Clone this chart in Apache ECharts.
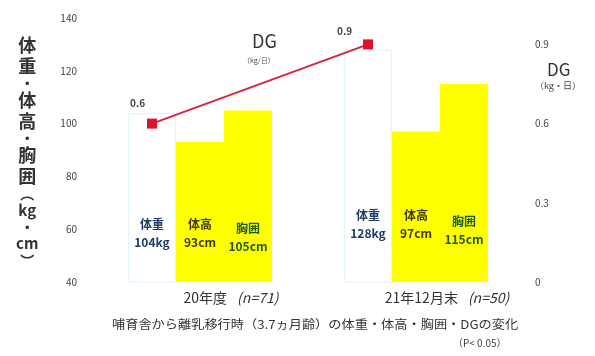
<!DOCTYPE html>
<html>
<head>
<meta charset="utf-8">
<script src="https://cdn.jsdelivr.net/npm/echarts@6/dist/echarts.min.js"></script>
<style>
  html, body { margin: 0; padding: 0; background: #fff; }
  #main { width: 595px; height: 356px; }
</style>
</head>
<body>
<div id="main"></div>
<script>
// 期間（カテゴリ）と頭数
var categories = ['20年度', '21年12月末'];
var headCounts = ['(n=71)', '(n=50)'];

// 体重(kg)・体高(cm)・胸囲(cm)
var weight = [104, 128];
var height = [93, 97];
var girth = [105, 115];

// DG (kg/日)
var dg = [0.6, 0.9];

// 軸目盛
var leftTicks = { min: 40, max: 140, interval: 20 };
var rightTicks = { min: 0, max: 1.0, interval: 0.3 };

var FONT = '"Noto Sans CJK JP", "Noto Sans", sans-serif';

var gridLeft = 92, gridRight = 71;
var plotWidth = 595 - gridLeft - gridRight;
var catWidth = plotWidth / categories.length;
var barW = 48;
// 体重の棒の中心（カテゴリ中心から棒1本分左）へ DG 点を合わせる
var shift = barW / catWidth;

// 棒内ラベルの下端からの距離（グループごと）
var labelDist = [31, 40];
var girthLabelDist = [27, 34];
// DG ラベルの位置（点ごと）
var dgLabelPos = [[-17, -20], [-26, -13]];

function barLabel(name, unit, color) {
  return {
    show: true,
    position: 'insideBottom',
    fontFamily: FONT,
    fontSize: 12,
    fontWeight: 'bold',
    lineHeight: 18,
    color: color,
    formatter: function (p) { return name + '\n' + p.value + unit; }
  };
}

function withDist(values, dists) {
  return values.map(function (v, i) { return { value: v, label: { distance: dists[i] } }; });
}

var dgData = dg.map(function (v, i) {
  return { value: [i + 0.5 - shift, v], label: { position: dgLabelPos[i] } };
});

var chart = echarts.init(document.getElementById('main'));
chart.setOption({
  animation: false,
  backgroundColor: '#ffffff',
  grid: { left: gridLeft, right: gridRight, top: 18, bottom: 74 },
  xAxis: [
    {
      type: 'category',
      data: categories,
      axisLine: { show: false },
      axisTick: { show: false },
      axisLabel: {
        margin: 9,
        padding: [0, 0, 0, 62],
        formatter: function (v, i) { return '{a|' + v + '}{s|}{b|' + headCounts[i] + '}'; },
        rich: {
          a: { fontFamily: FONT, fontSize: 14, color: '#333' },
          s: { width: 10 },
          b: { fontFamily: FONT, fontSize: 14, color: '#333', fontStyle: 'italic' }
        }
      }
    },
    { type: 'value', min: 0, max: categories.length, show: false }
  ],
  yAxis: [
    {
      type: 'value',
      min: leftTicks.min, max: leftTicks.max, interval: leftTicks.interval,
      axisLine: { show: false }, axisTick: { show: false },
      splitLine: { show: false },
      axisLabel: { margin: 15, fontFamily: FONT, fontSize: 10, color: '#444' }
    },
    {
      type: 'value',
      min: rightTicks.min, max: rightTicks.max, interval: rightTicks.interval,
      axisLine: { show: false }, axisTick: { show: false },
      splitLine: { show: false },
      axisLabel: {
        margin: 11, showMaxLabel: false, fontFamily: FONT, fontSize: 10, color: '#444',
        formatter: function (v) { return v === 0 ? '0' : v.toFixed(1); }
      }
    }
  ],
  series: [
    {
      name: '体重', type: 'bar', data: withDist(weight, labelDist), barWidth: barW, barGap: '0%',
      itemStyle: { color: '#ffffff', borderColor: '#e3f6f6', borderWidth: 1.2 },
      label: barLabel('体重', 'kg', '#1f3c68')
    },
    {
      name: '体高', type: 'bar', data: withDist(height, labelDist), barWidth: barW, barGap: '0%',
      itemStyle: { color: '#ffff00' },
      label: barLabel('体高', 'cm', '#3f3a10')
    },
    {
      name: '胸囲', type: 'bar', data: withDist(girth, girthLabelDist), barWidth: barW, barGap: '0%',
      itemStyle: { color: '#ffff00' },
      label: barLabel('胸囲', 'cm', '#1c5a1c')
    },
    {
      name: 'DG', type: 'line', xAxisIndex: 1, yAxisIndex: 1, data: dgData,
      symbol: 'rect', symbolSize: 10,
      lineStyle: { color: '#d9243e', width: 2 },
      itemStyle: { color: '#e0102c' },
      label: {
        show: true, fontFamily: FONT, fontSize: 10, fontWeight: 'bold',
        color: '#444', formatter: function (p) { return p.value[1].toFixed(1); }
      },
      z: 5
    }
  ],
  graphic: [
    {
      type: 'text', left: 16, top: 36,
      style: {
        text: '{c|体}\n{c|重}\n{d|・}\n{c|体}\n{c|高}\n{d|・}\n{c|胸}\n{c|囲}\n{p|︵}\n{k|kg}\n{d|・}\n{k|cm}\n{p|︶}',
        align: 'center',
        rich: {
          c: { fontFamily: FONT, fontSize: 18, fontWeight: 'bold', lineHeight: 21, fill: '#333', width: 22, align: 'center' },
          d: { fontFamily: FONT, fontSize: 14, fontWeight: 'bold', lineHeight: 13, fill: '#333', width: 22, align: 'center' },
          p: { fontFamily: FONT, fontSize: 14, fontWeight: 'bold', lineHeight: 14, fill: '#333', width: 22, align: 'center' },
          k: { fontFamily: FONT, fontSize: 15, fontWeight: 'bold', lineHeight: 20, fill: '#333', width: 22, align: 'center' }
        }
      }
    },
    { type: 'text', left: 252, top: 32, style: { text: 'DG', fontFamily: FONT, fontSize: 18, fill: '#333' } },
    { type: 'text', left: 243, top: 57, style: { text: '（kg/日）', fontFamily: FONT, fontSize: 7, fill: '#555' } },
    { type: 'text', left: 547, top: 61, style: { text: 'DG', fontFamily: FONT, fontSize: 17, fill: '#333' } },
    { type: 'text', left: 535, top: 81, style: { text: '（kg・日）', fontFamily: FONT, fontSize: 9, fill: '#444' } },
    {
      type: 'text', left: 112, top: 318, scaleX: 1.1,
      style: { text: '哺育舎から離乳移行時（3.7ヵ月齢）の体重・体高・胸囲・DGの変化', fontFamily: FONT, fontSize: 12, fill: '#333' }
    },
    { type: 'text', left: 453, top: 338, style: { text: '（P< 0.05）', fontFamily: FONT, fontSize: 10, fill: '#444' } }
  ]
});
</script>
</body>
</html>
